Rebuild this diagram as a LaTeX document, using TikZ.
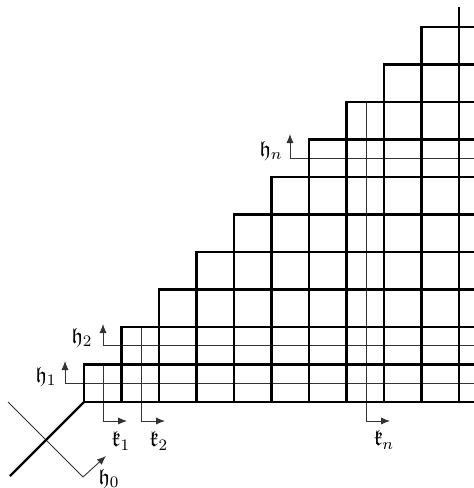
\documentclass[tikz,border=0pt]{standalone}
\usepackage{amssymb}
\usetikzlibrary{arrows.meta}
\tikzset{
  thickline/.style={line width=1.1pt, line cap=rect, black},
  thinline/.style={line width=0.45pt, black!80},
  arr/.style={thinline, -{Latex[length=4.5pt,width=3.6pt]}},
  lab/.style={inner sep=0pt, font=\fontsize{11}{13}\selectfont}
}
\begin{document}
\begin{tikzpicture}[x=0.5pt, y=-0.5pt]
\useasboundingbox (0,0) rectangle (474,488);
% thin lines with arrows
\coordinate (h1s) at (474,383); \coordinate (h1c) at (65,383); \coordinate (h1e) at (65,361);
\coordinate (h2s) at (474,345.5); \coordinate (h2c) at (103,345.5); \coordinate (h2e) at (103,324);
\coordinate (hns) at (474,158); \coordinate (hnc) at (290,158); \coordinate (hne) at (290,134);
\coordinate (k1s) at (103,364.5); \coordinate (k1c) at (103,421); \coordinate (k1e) at (127,421);
\coordinate (k2s) at (141,327); \coordinate (k2c) at (141,421); \coordinate (k2e) at (165,421);
\coordinate (kns) at (366,102); \coordinate (knc) at (366,421); \coordinate (kne) at (390,421);
\coordinate (h0s) at (8,402); \coordinate (h0c) at (83,477); \coordinate (h0e) at (106,456);
\draw[arr] (h1s) -- (h1c) -- (h1e);
\draw[arr] (h2s) -- (h2c) -- (h2e);
\draw[arr] (hns) -- (hnc) -- (hne);
\draw[arr] (k1s) -- (k1c) -- (k1e);
\draw[arr] (k2s) -- (k2c) -- (k2e);
\draw[arr] (kns) -- (knc) -- (kne);
\draw[arr] (h0s) -- (h0c) -- (h0e);
% thick grid
\foreach \i in {1,...,10} {
  \draw[thickline] ({84+37.5*(\i-1)},{402-37.5*\i}) -- (474,{402-37.5*\i});
}
\draw[thickline] (84,402) -- (474,402);
\foreach \j in {0,...,9} {
  \draw[thickline] ({84+37.5*\j},402) -- ({84+37.5*\j},{402-37.5*(\j+1)});
}
\draw[thickline] (459,402) -- (459,8);
\coordinate (corner) at (84,402);
\coordinate (tail) at (10,476);
\draw[line width=1.1pt, black] (corner) -- (tail);
% labels
\node[lab] (l1) at (46,377) {$\mathfrak{h}_1$};
\node[lab] (l2) at (82,338) {$\mathfrak{h}_2$};
\node[lab] (ln) at (271,151) {$\mathfrak{h}_n$};
\node[lab] (l0) at (109,479) {$\mathfrak{h}_0$};
\node[lab] (m1) at (121,441) {$\mathfrak{k}_1$};
\node[lab] (m2) at (159,441) {$\mathfrak{k}_2$};
\node[lab] (mn) at (384,440) {$\mathfrak{k}_n$};
\end{tikzpicture}
\end{document}
